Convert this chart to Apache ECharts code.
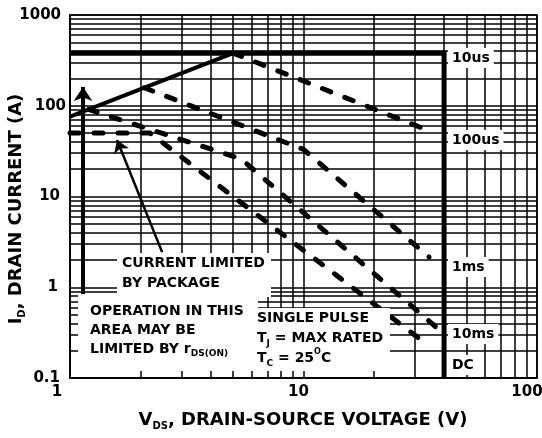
<!DOCTYPE html>
<html><head><meta charset="utf-8">
<script src="https://cdn.jsdelivr.net/npm/echarts@6/dist/echarts.min.js"></script>
<style>html,body{margin:0;padding:0;background:#fff}#c{width:542px;height:438px}</style>
</head><body><div id="c"></div>
<script>
// ---- data ----
const xTickLabels = ['1', '10', '100'];
const yTickLabels = ['0.1', '1', '10', '100', '1000'];
const xMinorGrid = [2,3,4,5,6,7,8,9,20,30,40,50,60,70,80,90];
const yMinorGrid = [0.2,0.3,0.4,0.5,0.6,0.7,0.8,0.9,2,3,4,5,6,7,8,9,20,30,40,50,60,70,80,90,200,300,400,500,600,700,800,900];
const limit10us = [[1,380],[40,380],[40,0.1]];
const rdsLimit = [[1,76],[5,380]];
const pulse100us = [[5,380],[35.5,51.4]];
const pulse1ms = [[2.08,158],[10,33],[34.5,2.15]];
const pulse10ms = [[1.2,91],[5.4,26],[36.9,0.365]];
const dcLine = [[1,50],[2.2,50],[34.5,0.225]];
const arrowUp = [[1.137,0.8],[1.137,161]];
const arrowPkg = [[2.48,2.44],[1.59,41.9]];

// ---- chart ----
const FF = 'DejaVu Sans';
const chart = echarts.init(document.getElementById('c'), null, {renderer:'canvas'});
const blk = '#000';
const GW = 1.5;
function ser(name, data, width, dashed, extra) {
  return Object.assign({
    name, type:'line', data, symbol:'none', silent:true, z:3, animation:false,
    lineStyle:{color:blk, width, type: dashed ? [9,15] : 'solid', cap: dashed ? 'round' : 'butt', join:'miter'}
  }, extra || {});
}
function arrowML(pts, width, size) {
  return {silent:true, animation:false, symbol:['none','arrow'], symbolSize:size,
    label:{show:false}, emphasis:{disabled:true},
    lineStyle:{color:blk, width, type:'solid'},
    data:[[{coord:pts[0]},{coord:pts[1]}]]};
}
const m = {fontFamily:FF, fontWeight:'bold', fontSize:14, fill:blk, lineHeight:20, verticalAlign:'middle'};
const s = {fontFamily:FF, fontWeight:'bold', fontSize:9, fill:blk, lineHeight:9, verticalAlign:'bottom'};
const sp = {fontFamily:FF, fontWeight:'bold', fontSize:8, fill:blk, lineHeight:8, verticalAlign:'top'};
function lbl(text, y) {
  return {type:'text', x:448, y, z:12, style:{text, fontFamily:FF, fontWeight:'bold', fontSize:14, fill:blk,
    backgroundColor:'#fff', padding:[3,4,3,4], verticalAlign:'middle', align:'left'}};
}
const option = {
  animation:false,
  backgroundColor:'#fff',
  grid:{left:70, top:15, width:467, height:363, show:true, borderColor:blk, borderWidth:GW, containLabel:false, outerBoundsMode:'none'},
  xAxis:{type:'log', logBase:10, min:1, max:100,
    axisLine:{show:true, lineStyle:{color:blk, width:GW}}, axisTick:{show:false},
    splitLine:{show:true, lineStyle:{color:blk, width:GW}},
    axisLabel:{margin:7, color:blk, fontFamily:FF, fontWeight:'bold', fontSize:15,
      formatter:(v,i)=>'{x'+i+'|'+xTickLabels[i]+'}',
      rich:{
        x0:{fontFamily:FF, fontWeight:'bold', fontSize:15, color:blk, padding:[0,26,0,0]},
        x1:{fontFamily:FF, fontWeight:'bold', fontSize:15, color:blk, padding:[0,10,0,0]},
        x2:{fontFamily:FF, fontWeight:'bold', fontSize:15, color:blk, padding:[0,20,0,0]}
      }}
  },
  yAxis:{type:'log', logBase:10, min:0.1, max:1000,
    axisLine:{show:true, lineStyle:{color:blk, width:GW}}, axisTick:{show:false},
    splitLine:{show:true, lineStyle:{color:blk, width:GW}},
    axisLabel:{margin:2, color:blk, fontFamily:FF, fontWeight:'bold', fontSize:15,
      formatter:(v,i)=>'{y'+i+'|'+yTickLabels[i]+'}',
      rich:{
        y0:{fontFamily:FF, fontWeight:'bold', fontSize:15, color:blk, padding:[0,8,0,0]},
        y1:{fontFamily:FF, fontWeight:'bold', fontSize:15, color:blk, padding:[0,10,0,0]},
        y2:{fontFamily:FF, fontWeight:'bold', fontSize:15, color:blk, padding:[0,8,0,0]},
        y3:{fontFamily:FF, fontWeight:'bold', fontSize:15, color:blk, padding:[0,2,0,0]},
        y4:{fontFamily:FF, fontWeight:'bold', fontSize:15, color:blk, padding:[0,7,0,0]}
      }}
  },
  series:[
    ser('10us', limit10us, 5, false, {markLine:{silent:true, animation:false, symbol:'none', label:{show:false},
      emphasis:{disabled:true}, lineStyle:{color:blk, width:GW, type:'solid'},
      data:[...xMinorGrid.map(v=>({xAxis:v})), ...yMinorGrid.map(v=>({yAxis:v}))]}}),
    ser('rds', rdsLimit, 4, false, {markLine:arrowML(arrowUp, 4, 14)}),
    ser('100us', pulse100us, 5, true),
    ser('1ms', pulse1ms, 5, true),
    ser('10ms', pulse10ms, 5, true, {markLine:arrowML(arrowPkg, 2.5, 12)}),
    ser('DC', dcLine, 5, true)
  ],
  graphic:[
    {type:'rect', z:10, shape:{x:117, y:253, width:154, height:44}, style:{fill:'#fff'}},
    {type:'rect', z:10, shape:{x:78, y:294, width:180, height:77}, style:{fill:'#fff'}},
    {type:'rect', z:10, shape:{x:253, y:308, width:137, height:63}, style:{fill:'#fff'}},
    {type:'text', x:122, y:273, z:12, style:{text:'CURRENT LIMITED\nBY PACKAGE', fontFamily:FF, fontWeight:'bold', fontSize:14, fill:blk, lineHeight:20, verticalAlign:'middle', align:'left'}},
    {type:'text', x:90, y:330, z:12, style:{text:'{m|OPERATION IN THIS}\n{m|AREA MAY BE}\n{m|LIMITED BY r}{s|DS(ON)}', rich:{m:Object.assign({}, m, {lineHeight:19}), s}, verticalAlign:'middle', align:'left'}},
    {type:'text', x:257, y:338, z:12, style:{text:'{m|SINGLE PULSE}\n{m|T}{s|J}{m| = MAX RATED}\n{m|T}{s|C}{m| = 25}{p|O}{m|C}', rich:{m, s, p:sp}, verticalAlign:'middle', align:'left'}},
    lbl('10us', 58), lbl('100us', 140), lbl('1ms', 267), lbl('10ms', 334), lbl('DC', 365),
    {type:'text', x:303, y:420, z:12, style:{text:'{m|V}{s|DS}{m|, DRAIN-SOURCE VOLTAGE (V)}',
      rich:{m:{fontFamily:FF, fontWeight:'bold', fontSize:18, fill:blk, lineHeight:22, verticalAlign:'middle'},
            s:{fontFamily:FF, fontWeight:'bold', fontSize:10, fill:blk, lineHeight:10, verticalAlign:'bottom'}},
      align:'center', verticalAlign:'middle'}},
    {type:'text', x:16, y:209, rotation:Math.PI/2, z:12, style:{text:'{m|I}{s|D}{m|, DRAIN CURRENT (A)}',
      rich:{m:{fontFamily:FF, fontWeight:'bold', fontSize:18, fill:blk, lineHeight:22, verticalAlign:'middle'},
            s:{fontFamily:FF, fontWeight:'bold', fontSize:10, fill:blk, lineHeight:10, verticalAlign:'bottom'}},
      align:'center', verticalAlign:'middle'}}
  ]
};
chart.setOption(option);
</script></body></html>
